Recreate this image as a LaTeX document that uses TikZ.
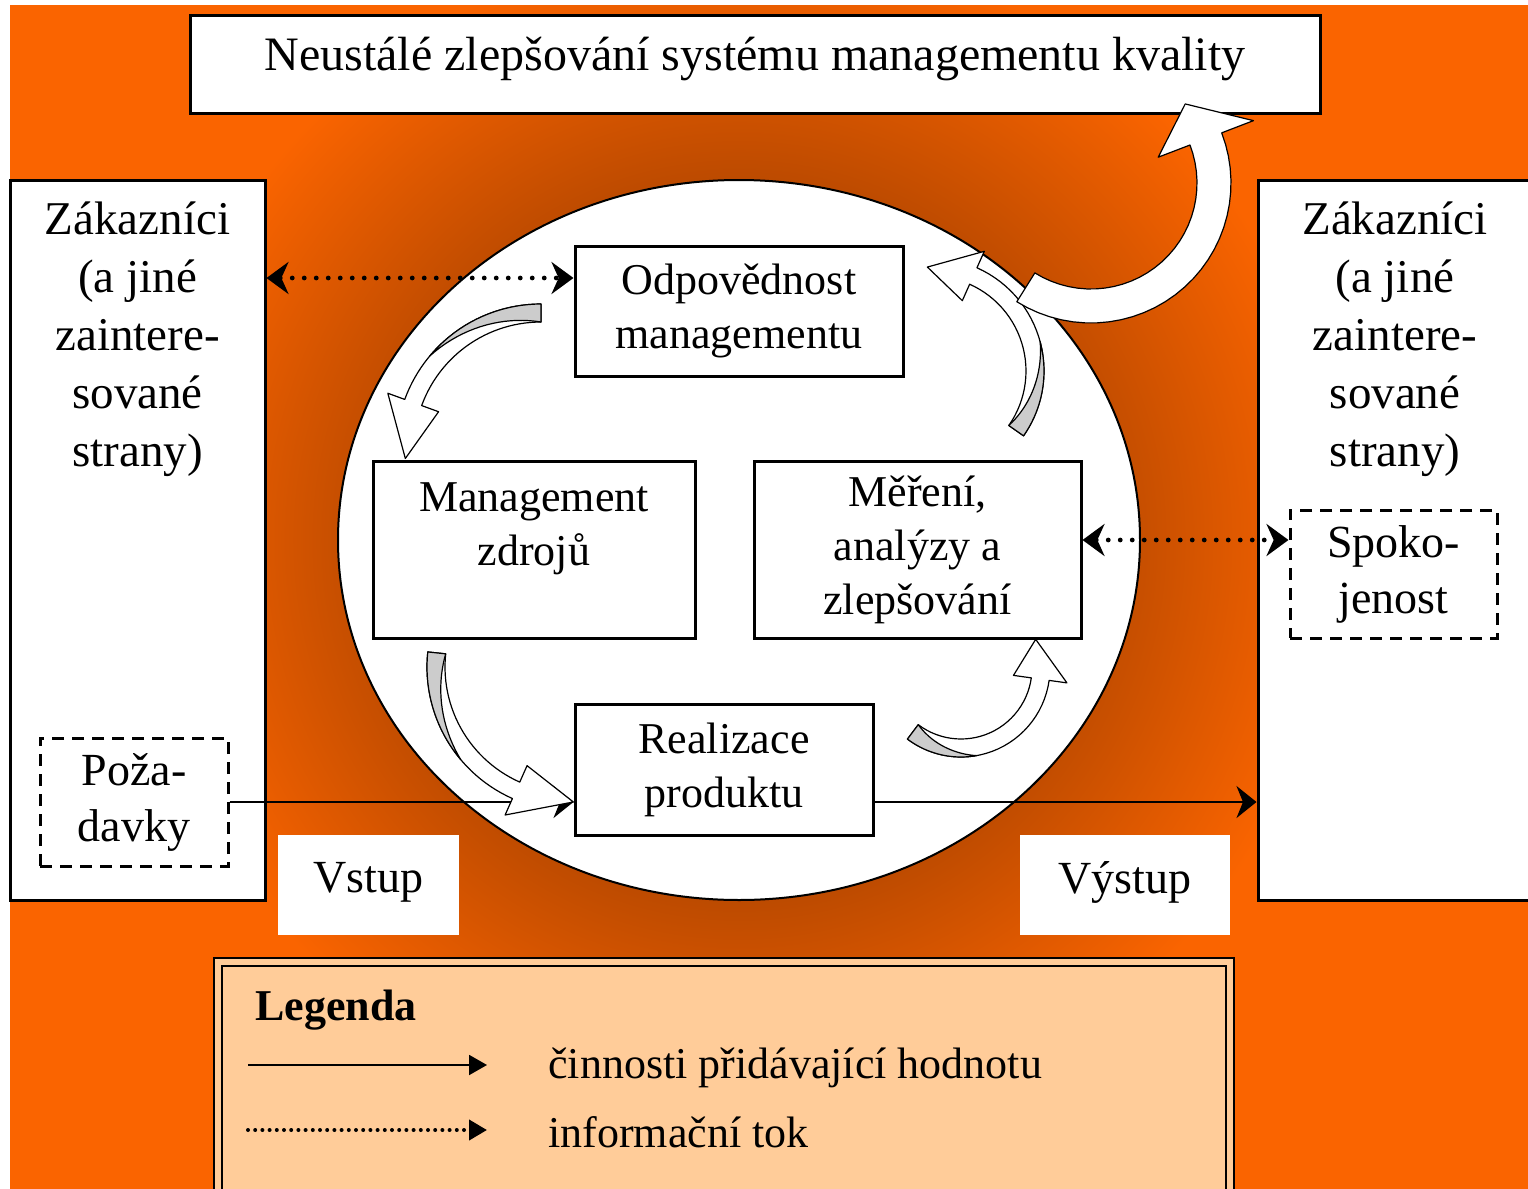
\documentclass[tikz,border=0pt]{standalone}
\usepackage{fontspec}
\setmainfont{Liberation Serif}
\usetikzlibrary{arrows.meta,positioning}

\definecolor{bgorange}{RGB}{250,100,0}
\definecolor{bgdark}{RGB}{178,70,0}
\definecolor{legendfill}{RGB}{255,204,153}
\definecolor{tailgrey}{RGB}{204,204,204}

\pgfdeclareradialshading{glow}{\pgfpoint{0bp}{0bp}}{color(0bp)=(bgdark); color(8bp)=(bgdark); color(15bp)=(bgorange); color(50bp)=(bgorange)}

% curved block arrow: centre x, centre y, radius, tail angle, head angle, tip angle, half width
\newcommand{\bandarrow}[7]{%
  \filldraw[arrowface]
    plot[domain=#4:#5,samples=30] ({#1+(#3+#7)*cos(\x)},{#2+(#3+#7)*sin(\x)})
    -- ({#1+(#3+3*#7)*cos(#5)},{#2+(#3+3*#7)*sin(#5)})
    -- ({#1+#3*cos(#6)},{#2+#3*sin(#6)})
    -- ({#1+(#3-3*#7)*cos(#5)},{#2+(#3-3*#7)*sin(#5)})
    -- plot[domain=#5:#4,samples=30] ({#1+(#3-#7)*cos(\x)},{#2+(#3-#7)*sin(\x)})
    -- cycle;}
% grey underside at the tail: centre x, centre y, radius, tail angle, end angle, half width
\newcommand{\bandtail}[6]{%
  \filldraw[arrowtail]
    plot[domain=#4:#5,samples=20] ({#1+(#3+#6)*cos(\x)},{#2+(#3+#6)*sin(\x)})
    -- plot[domain=#5:#4,samples=20] ({#1+(#3+#6-2*#6*(\x-(#5))/((#4)-(#5)))*cos(\x)},{#2+(#3+#6-2*#6*(\x-(#5))/((#4)-(#5)))*sin(\x)})
    -- cycle;}

\begin{document}
\begin{tikzpicture}[x=0.5pt,y=-0.5pt]
\tikzset{box/.style={draw, line width=1.5pt, fill=white, inner sep=0pt},
  topbox/.style={box, minimum width=565pt, minimum height=49pt, text depth=10pt, font=\fontsize{24}{28}\selectfont},
  custbox/.style={box, minimum height=360pt},
  custtext/.style={align=center, font=\fontsize{23.5}{29}\selectfont},
  reqbox/.style={box, dash pattern=on 6pt off 4pt, align=center, minimum height=64pt, font=\fontsize{23}{28}\selectfont},
  procbox/.style={box, align=center, font=\fontsize{22}{27}\selectfont},
  porttext/.style={fill=white, minimum height=50pt, text depth=8pt, font=\fontsize{23}{28}\selectfont},
  infoflow/.style={line width=2.4pt, dash pattern=on 0pt off 6pt, line cap=round, {Stealth[length=11pt,width=16pt]}-{Stealth[length=11pt,width=16pt]}},
  valueflow/.style={line width=1pt, -{Stealth[length=10pt,width=16pt]}},
  legendarrow/.style={line width=1pt, -{Triangle[length=9pt,width=10pt]}},
  legenddots/.style={line width=2pt, dash pattern=on 0pt off 3.6pt, line cap=round},
  legendtext/.style={anchor=west, inner sep=0pt, font=\fontsize{22}{26}\selectfont},
  arrowface/.style={fill=white, draw=black, line width=0.6pt, line join=round},
  arrowtail/.style={fill=tailgrey, draw=black, line width=0.6pt, line join=round}}
\useasboundingbox (0,0) rectangle (1528,1189);

% background
\begin{scope}
  \clip (10,5) rectangle (1540,1200);
  \fill[bgorange] (10,5) rectangle (1540,1200);
  \shade[shading=glow] (739,540) circle [radius=1000];
\end{scope}
\draw[fill=white, line width=1pt] (739,540) ellipse [x radius=401, y radius=360];

\node[topbox] (title) at (755,64) {Neustálé zlepšování systému managementu kvality};

% customers
\node[custbox, minimum width=127.5pt] (custL) at (137.5,540) {};
\node[custtext, below=8pt of custL.north] (custLtext) {Zákazníci\\(a jiné\\zaintere-\\sované\\strany)};
\node[custbox, minimum width=137pt] (custR) at (1395,540) {};
\node[custtext, below=8pt of custR.north] (custRtext) {Zákazníci\\(a jiné\\zaintere-\\sované\\strany)};
\node[reqbox, minimum width=94pt] (pozad) at (134,802) {Poža-\\davky};
\node[reqbox, minimum width=103.5pt] (spokoj) at (1393.5,574) {Spoko-\\jenost};

% processes
\node[procbox, minimum width=164pt, minimum height=65pt] (odpov) at (739,311) {Odpovědnost\\managementu};
\node[procbox, minimum width=161pt, minimum height=88.5pt] (zdroje) at (534,549.5) {};
\node[align=center, font=\fontsize{22}{27}\selectfont, below=8pt of zdroje.north] (zdrojetext) {Management\\zdrojů};
\node[procbox, minimum width=163.5pt, minimum height=88.5pt] (mereni) at (917.5,549.5) {Měření,\\analýzy a\\zlepšování};
\node[procbox, minimum width=149pt, minimum height=65.5pt] (realiz) at (724,769.5) {Realizace\\produktu};

\node[porttext, minimum width=90.5pt] (vstup) at (368.5,885) {Vstup};
\node[porttext, minimum width=105pt] (vystup) at (1125,885) {Výstup};

% flows
\coordinate (odpovIn) at ([yshift=16.5pt]odpov.west);
\draw[infoflow] (custL.east |- odpovIn) -- (odpovIn);
\coordinate (mereniOut) at ([yshift=4.75pt]mereni.east);
\draw[infoflow] (mereniOut) -- (mereniOut -| spokoj.west);
\draw[valueflow] (pozad.east) -- (pozad.east -| realiz.west);
\draw[valueflow] (realiz.east |- pozad.east) -- (pozad.east -| custR.west);

% cycle arrows
\bandarrow{541}{449}{136}{-90}{-160}{-184}{9}
\bandtail{541}{449}{136}{-90}{-140}{9}
\bandarrow{571}{667}{135}{186}{114}{89}{9}
\bandtail{571}{667}{135}{186}{140}{9}
\bandarrow{961}{668}{80}{127}{8}{-21}{9}
\bandtail{961}{668}{80}{127}{80}{9}
\bandarrow{931}{371}{104}{35}{-66}{-92}{9}
\bandtail{931}{371}{104}{35}{-15}{9}
\bandarrow{1091}{183}{123}{122}{-21}{-40}{17}

% legend
\node[draw, line width=1.2pt, double=legendfill, double distance=3pt, fill=legendfill, minimum width=506pt, minimum height=119pt] (legend) at (724,1081) {};
\node[legendtext] (legtitle) at (255,1010) {\textbf{Legenda}};
\coordinate (legA1) at (248,1065);
\coordinate (legA2) at (487,1065);
\draw[legendarrow] (legA1) -- (legA2);
\node[legendtext] (legvalue) at (548,1068) {činnosti přidávající hodnotu};
\coordinate (legB1) at (248,1130);
\coordinate (legB2) at (487,1130);
\draw[legendarrow, legenddots] (legB1) -- (legB2);
\node[legendtext] (leginfo) at (548,1132) {informační tok};
\end{tikzpicture}
\end{document}
